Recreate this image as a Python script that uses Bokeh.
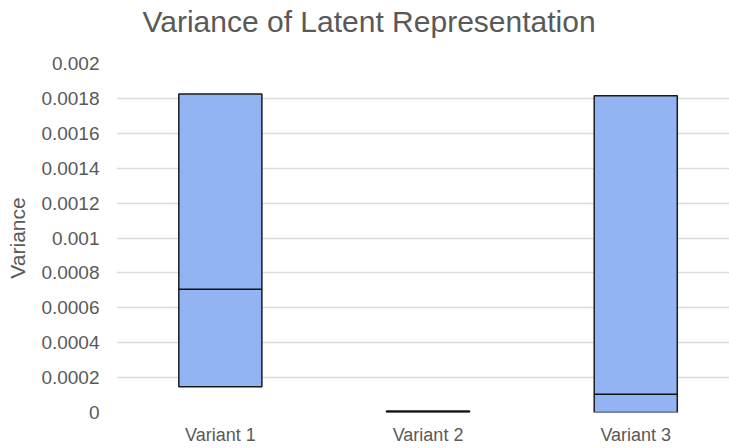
from bokeh.plotting import figure
from bokeh.models import ColumnDataSource, Range1d, FixedTicker, CustomJSTickFormatter, Title
from bokeh.transform import dodge
from bokeh.embed import file_html
from bokeh.resources import INLINE

# ---- data ----
categories = ["Variant 1", "Variant 2", "Variant 3"]
cat_pos = [1, 2, 3]
low = [0.000147, 0.000001, 0.0]
median = [0.000707, 0.000005, 0.000105]
high = [0.001825, 0.000009, 0.001815]
y_ticks = [0, 0.0002, 0.0004, 0.0006, 0.0008, 0.001, 0.0012, 0.0014, 0.0016, 0.0018, 0.002]

FONT = "Liberation Sans"
GRAY = "#595959"
BOX_W = 0.4
CAT_PX = 207.7
FRAME_W = 613

src = ColumnDataSource(dict(x=cat_pos, low=low, med=median, high=high, name=categories))

p = figure(
    frame_width=FRAME_W, frame_height=349,
    min_border_left=116, min_border_right=0, min_border_top=63, min_border_bottom=36,
    x_range=Range1d(0.5, 0.5 + FRAME_W / CAT_PX), y_range=Range1d(0, 0.002),
    output_backend="svg", toolbar_location=None,
    title="Variance of Latent Representation",
)
p.outline_line_color = None
p.background_fill_color = "white"
p.border_fill_color = "white"

p.title.text_font = FONT
p.title.text_font_size = "30px"
p.title.text_font_style = "normal"
p.title.text_color = GRAY
p.title.align = "left"
p.title.vertical_align = "bottom"
p.title.offset = 26
p.title.standoff = 0

# blank spacer panel between the title and the plot frame
spacer = Title(text=" ", text_font_size="10px", text_color="white", standoff=13)
p.add_layout(spacer, "above")

p.vbar(x="x", width=BOX_W, bottom="low", top="high", source=src,
       fill_color="#93b4f2", line_color="#1a1a1a", line_width=1.5)
p.segment(x0=dodge("x", -BOX_W / 2), x1=dodge("x", BOX_W / 2), y0="med", y1="med",
          source=src, line_color="#111111", line_width=1.5)

# axes
p.xaxis.ticker = FixedTicker(ticks=cat_pos)
p.xaxis.major_label_overrides = {c: n for c, n in zip(cat_pos, categories)}
p.yaxis.ticker = FixedTicker(ticks=y_ticks)
p.yaxis.formatter = CustomJSTickFormatter(code="return String(+tick.toFixed(6));")
for ax in (p.xaxis[0], p.yaxis[0]):
    ax.axis_line_color = None
    ax.major_tick_line_color = None
    ax.minor_tick_line_color = None
    ax.major_tick_out = 0
    ax.major_tick_in = 0
    ax.major_label_text_font = FONT
    ax.major_label_text_color = GRAY
p.xaxis.major_label_text_font_size = "18px"
p.yaxis.major_label_text_font_size = "19px"
p.xaxis.major_label_standoff = 12
p.yaxis.major_label_standoff = 17
p.yaxis.axis_label = "Variance"
p.yaxis.axis_label_text_font = FONT
p.yaxis.axis_label_text_font_size = "21px"
p.yaxis.axis_label_text_font_style = "normal"
p.yaxis.axis_label_text_color = GRAY
p.yaxis.axis_label_standoff = 9

p.xgrid.grid_line_color = None
p.ygrid.ticker = FixedTicker(ticks=y_ticks)
p.ygrid.grid_line_color = "#dcdcdc"
p.ygrid.grid_line_width = 1.5

open("out.html", "w").write(file_html(p, INLINE))
